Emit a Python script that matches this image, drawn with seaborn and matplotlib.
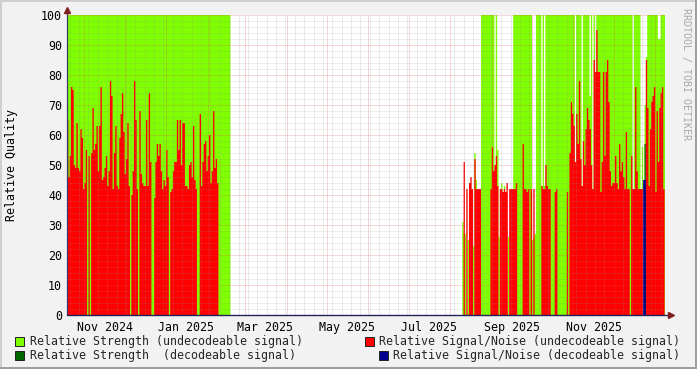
import numpy as np
import pandas as pd
import matplotlib
matplotlib.use("Agg")
import matplotlib.pyplot as plt
import seaborn as sns
from matplotlib.patches import Rectangle

# ---------------- data (daily values) ----------------
start_date = "2024-10-19"
n_days = 447
x_end = 446.3

# Period 1: 2024-10-19 .. 2025-02-08 (S/N undecodeable)
p1_start = "2024-10-19"
p1_snr = [65, 46, 53, 76, 75, 50, 49, 64, 49, 48, 62, 59, 42, 44, 55, 0, 53, 0, 54, 69,
          55, 57, 63, 48, 63, 76, 45, 46, 49, 53, 43, 48, 78, 73, 42, 54, 63, 43, 42, 59,
          67, 74, 61, 47, 52, 64, 43, 0, 40, 48, 78, 65, 42, 0, 68, 47, 44, 43, 43, 65, 43,
          74, 51, 0, 0, 39, 51, 57, 53, 57, 48, 42, 45, 43, 55, 46, 0, 41, 42, 48, 51,
          51, 65, 55, 65, 50, 64, 64, 43, 43, 42, 50, 51, 46, 63, 45, 42, 0, 0, 67, 43,
          51, 57, 58, 48, 53, 60, 44, 48, 68, 49, 52, 44]
# Strength undecodeable: full 100 from 2024-10-19 to 2025-02-17
p1_strength_value = 100
p1_strength_days = 122

# Period 2: 2025-08-10 .. 2026-01-08
p2_start = "2025-08-10"
p2_snr = [0, 51, 0, 42, 0, 44, 46, 42, 0, 52, 42, 42, 42, 42,
          0, 0, 0, 0, 0, 0, 0, 42, 56, 48, 50, 53, 43, 0,
          42, 42, 41, 42, 41, 44, 0, 42, 42, 42, 42, 42, 44, 0,
          0, 0, 0, 57, 42, 42, 41, 42, 0, 42, 0, 42, 0, 0,
          0, 0, 0, 43, 42, 42, 50, 43, 42, 42, 0, 0, 0, 41,
          42, 0, 0, 0, 0, 0, 0, 0, 41, 0, 54, 71, 67, 63,
          51, 67, 57, 78, 52, 43, 58, 50, 62, 69, 65, 62, 50, 42,
          85, 81, 95, 81, 81, 41, 51, 81, 53, 81, 85, 71, 48, 43,
          44, 44, 53, 44, 42, 57, 48, 51, 46, 42, 61, 42, 42, 0,
          53, 42, 42, 76, 48, 42, 42, 42, 42, 0, 0, 85, 69, 43,
          62, 71, 73, 76, 41, 68, 51, 69, 74, 76, 42, 0]
p2_strength = [31, 27, 27, 0, 25, 0, 0, 0, 23, 54, 45, 0, 0, 0,
               100, 100, 100, 100, 100, 100, 100, 100, 100, 100, 48, 100, 55, 26,
               0, 44, 0, 43, 0, 0, 26, 0, 0, 0, 100, 100, 100, 100,
               100, 100, 100, 100, 100, 100, 100, 100, 100, 100, 25, 26, 27, 100,
               100, 100, 100, 43, 100, 43, 100, 100, 100, 100, 100, 100, 100, 100,
               100, 100, 100, 100, 100, 100, 100, 100, 100, 100, 100, 100, 100, 100,
               51, 100, 100, 100, 100, 43, 100, 100, 100, 100, 100, 73, 100, 42,
               100, 69, 100, 100, 100, 100, 100, 100, 100, 100, 100, 100, 100, 100,
               100, 100, 100, 100, 100, 100, 100, 100, 100, 100, 100, 100, 100, 100,
               100, 42, 100, 100, 100, 100, 100, 42, 56, 0, 70, 86, 100, 100,
               100, 100, 100, 100, 100, 100, 92, 92, 100, 100, 100, 100]

# Decodeable signal
dec_start = "2025-12-23"
dec_snr = [45, 45]
dec_strength = [0, 57]

# axis labels
tick_months = ["2024-11-01", "2024-12-01", "2025-01-01", "2025-02-01", "2025-03-01",
               "2025-04-01", "2025-05-01", "2025-06-01", "2025-07-01", "2025-08-01",
               "2025-09-01", "2025-10-01", "2025-11-01", "2025-12-01", "2026-01-01"]
label_months = ["2024-11-16", "2025-01-16", "2025-03-16", "2025-05-16",
                "2025-07-16", "2025-09-16", "2025-11-16"]
label_texts = ["Nov 2024", "Jan 2025", "Mar 2025", "May 2025",
               "Jul 2025", "Sep 2025", "Nov 2025"]

legend_left = ["Relative Strength (undecodeable signal)",
               "Relative Strength  (decodeable signal)"]
legend_right = ["Relative Signal/Noise (undecodeable signal)",
                "Relative Signal/Noise (decodeable signal)"]

# ---------------- build table ----------------
START = pd.Timestamp(start_date)


def off(d):
    return (pd.Timestamp(d) - START).days


days = np.arange(n_days)
strength = np.zeros(n_days)
strength_dec = np.zeros(n_days)
snr = np.zeros(n_days)
snr_dec = np.zeros(n_days)

i = off(p1_start)
snr[i:i + len(p1_snr)] = p1_snr
strength[i:i + p1_strength_days] = p1_strength_value
i = off(p2_start)
snr[i:i + len(p2_snr)] = p2_snr
strength[i:i + len(p2_strength)] = p2_strength
i = off(dec_start)
snr_dec[i:i + len(dec_snr)] = dec_snr
strength_dec[i:i + len(dec_strength)] = dec_strength

df = pd.DataFrame({"day": days + 0.5, "strength": strength, "strength_dec": strength_dec,
                   "snr": snr, "snr_dec": snr_dec})

# ---------------- style ----------------
sns.set_theme(style="white")
plt.rcParams["font.family"] = ["DejaVu Sans Mono"]
plt.rcParams["font.size"] = 8.4

W, H = 697, 369
L, R, T, B = 67, 665, 15, 315

fig = plt.figure(figsize=(W / 100, H / 100), dpi=100)
fig.patch.set_facecolor("#f2f2f2")
ax = fig.add_axes([L / W, (H - B) / H, (R - L) / W, (B - T) / H])
ax.set_facecolor("white")

series = [("strength", "#80ff00"), ("strength_dec", "#006600"),
          ("snr", "#ff0000"), ("snr_dec", "#00008c")]
for col, color in series:
    sns.histplot(data=df, x="day", weights=col, binwidth=1, binrange=(0, n_days),
                 element="step", fill=True, color=color, alpha=1, linewidth=0,
                 edgecolor="none", ax=ax)

ax.set_xlim(0, x_end)
ax.set_ylim(0, 100)
ax.set_xlabel("")
ax.set_ylabel("Relative Quality", fontsize=8.4, color="black")
ax.yaxis.set_label_coords((11 - L) / (R - L), 0.5)
ax.yaxis.label.set_va("center")

# grid
ax.set_yticks(range(0, 101, 10))
ax.set_yticks([v for v in range(0, 101, 2) if v % 10], minor=True)
ax.set_xticks([off(m) for m in tick_months])
mondays = pd.date_range(START, START + pd.Timedelta(days=n_days), freq="W-MON")
ax.set_xticks([(m - START).days for m in mondays], minor=True)
ax.tick_params(axis="x", labelbottom=False, which="both")
ax.tick_params(axis="x", which="major", length=3, direction="inout", color="#1f1f1f", width=0.72)
ax.tick_params(axis="x", which="minor", length=2, direction="inout", color="#1f1f1f", width=0.72)
ax.tick_params(axis="y", which="major", length=3, direction="inout", color="#1f1f1f",
               width=0.72, pad=2, labelsize=8.4, labelcolor="black")
ax.tick_params(axis="y", which="minor", length=0)
ax.set_axisbelow(False)
ax.grid(which="minor", color="#8f8f8f", alpha=0.33, linestyle=(0, (1, 1)),
        linewidth=0.72, snap=True)
ax.grid(which="major", color="#de4f4f", alpha=0.45, linestyle=(0, (1, 1)),
        linewidth=0.72, snap=True)

for s in ax.spines.values():
    s.set_visible(False)

# axis lines with arrows
ax.plot([0, 0], [0, 1.012], transform=ax.transAxes, clip_on=False,
        color="#3a3a70", lw=0.9, zorder=5)
ax.plot([0, 1.006], [0, 0], transform=ax.transAxes, clip_on=False,
        color="#22225a", lw=1.0, zorder=5)
ax.plot([0], [(B - 10.3) / (B - T)], marker="^", markersize=4.2, color="#801f1f",
        transform=ax.transAxes, clip_on=False, zorder=6)
ax.plot([(671 - L) / (R - L)], [0], marker=">", markersize=4.2, color="#801f1f",
        transform=ax.transAxes, clip_on=False, zorder=6)

# month labels (centered mid-month)
sec = ax.secondary_xaxis("bottom")
sec.set_xticks([off(m) for m in label_months], labels=label_texts)
sec.tick_params(length=0, pad=4, labelsize=8.4, labelcolor="black")
sec.spines["bottom"].set_visible(False)

# watermark
fig.text(686 / W, 1 - 73.5 / H, "RRDTOOL / TOBI OETIKER", rotation=270,
         ha="center", va="center", color="#a8a8a8", fontsize=7.2)

# legend
colors_left = ["#80ff00", "#006600"]
colors_right = ["#ff0000", "#00008c"]
rows_y = [341, 355]
right_sq_x = [365, 379]
for k in range(2):
    y = rows_y[k]
    fig.add_artist(Rectangle((15 / W, 1 - (y + 4.5) / H), 9 / W, 9 / H,
                             transform=fig.transFigure, facecolor=colors_left[k],
                             edgecolor="#202020", lw=0.7))
    fig.text(30 / W, 1 - y / H, legend_left[k], ha="left", va="center", fontsize=8.4)
    fig.add_artist(Rectangle((right_sq_x[k] / W, 1 - (y + 4.5) / H), 9 / W, 9 / H,
                             transform=fig.transFigure, facecolor=colors_right[k],
                             edgecolor="#202020", lw=0.7))
    fig.text(680 / W, 1 - y / H, legend_right[k], ha="right", va="center", fontsize=8.4)

# frame shading (top/left light, bottom/right dark)
fig.add_artist(Rectangle((0, 1 - 2 / H), 1, 2 / H, transform=fig.transFigure,
                         facecolor="#cfcfcf", edgecolor="none"))
fig.add_artist(Rectangle((0, 0), 2 / W, 1, transform=fig.transFigure,
                         facecolor="#cfcfcf", edgecolor="none"))
fig.add_artist(Rectangle((0, 0), 1, 2 / H, transform=fig.transFigure,
                         facecolor="#9e9e9e", edgecolor="none"))
fig.add_artist(Rectangle((1 - 2 / W, 0), 2 / W, 1, transform=fig.transFigure,
                         facecolor="#9e9e9e", edgecolor="none"))

fig.savefig("out.png", dpi=100, facecolor=fig.get_facecolor())
